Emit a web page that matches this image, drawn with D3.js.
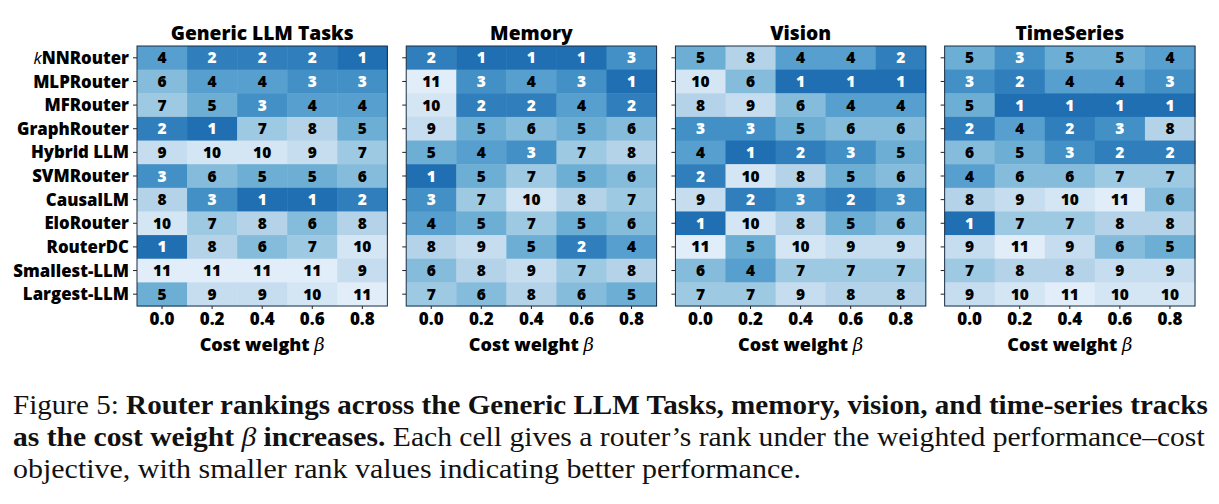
<!DOCTYPE html>
<html>
<head>
<meta charset="utf-8">
<script src="https://cdn.jsdelivr.net/npm/d3@7"></script>
<style>
  body { margin: 0; background: #fff; }
  svg { display: block; }
</style>
</head>
<body>
<div id="chart"></div>
<script>
const routers = ['kNNRouter', 'MLPRouter', 'MFRouter', 'GraphRouter', 'Hybrid LLM', 'SVMRouter',
  'CausalLM', 'EloRouter', 'RouterDC', 'Smallest-LLM', 'Largest-LLM'];
const betas = ['0.0', '0.2', '0.4', '0.6', '0.8'];
const tracks = ['Generic LLM Tasks', 'Memory', 'Vision', 'TimeSeries'];

// rank of each router (rows) at each beta (columns)
const genericRanks = [
  [4, 2, 2, 2, 1], [6, 4, 4, 3, 3], [7, 5, 3, 4, 4], [2, 1, 7, 8, 5], [9, 10, 10, 9, 7], [3, 6, 5, 5, 6],
  [8, 3, 1, 1, 2], [10, 7, 8, 6, 8], [1, 8, 6, 7, 10], [11, 11, 11, 11, 9], [5, 9, 9, 10, 11]
];
const memoryRanks = [
  [2, 1, 1, 1, 3], [11, 3, 4, 3, 1], [10, 2, 2, 4, 2], [9, 5, 6, 5, 6], [5, 4, 3, 7, 8], [1, 5, 7, 5, 6],
  [3, 7, 10, 8, 7], [4, 5, 7, 5, 6], [8, 9, 5, 2, 4], [6, 8, 9, 7, 8], [7, 6, 8, 6, 5]
];
const visionRanks = [
  [5, 8, 4, 4, 2], [10, 6, 1, 1, 1], [8, 9, 6, 4, 4], [3, 3, 5, 6, 6], [4, 1, 2, 3, 5], [2, 10, 8, 5, 6],
  [9, 2, 3, 2, 3], [1, 10, 8, 5, 6], [11, 5, 10, 9, 9], [6, 4, 7, 7, 7], [7, 7, 9, 8, 8]
];
const timeSeriesRanks = [
  [5, 3, 5, 5, 4], [3, 2, 4, 4, 3], [5, 1, 1, 1, 1], [2, 4, 2, 3, 8], [6, 5, 3, 2, 2], [4, 6, 6, 7, 7],
  [8, 9, 10, 11, 6], [1, 7, 7, 8, 8], [9, 11, 9, 6, 5], [7, 8, 8, 9, 9], [9, 10, 11, 10, 10]
];
const ranksByTrack = [genericRanks, memoryRanks, visionRanks, timeSeriesRanks];

const width = 1219;
const height = 504;
const plotTop = 46;
const plotBottom = 306;
const sansFont = '"Open Sans", Lato, "DejaVu Sans", sans-serif';

const svg = d3.select('#chart').append('svg')
  .attr('width', width)
  .attr('height', height);

const panelX = d3.scaleBand().domain(tracks).range([137, 1195]).paddingInner(0.07);
const y = d3.scaleBand().domain(routers).range([plotTop, plotBottom]);
const color = d3.scaleLinear().domain([1, 11]).range([0.76, 0.11]);

tracks.forEach((track, ti) => {
  const x = d3.scaleBand().domain(betas).range([0, panelX.bandwidth()]);
  const g = svg.append('g').attr('transform', `translate(${panelX(track)},0)`);

  const cells = [];
  ranksByTrack[ti].forEach((row, ri) => {
    row.forEach((rank, bi) => cells.push({ router: routers[ri], beta: betas[bi], rank }));
  });

  g.selectAll('rect.cell')
    .data(cells)
    .join('rect')
    .attr('class', 'cell')
    .attr('x', d => x(d.beta))
    .attr('y', d => y(d.router))
    .attr('width', x.bandwidth() + 0.5)
    .attr('height', y.bandwidth() + 0.5)
    .attr('fill', d => d3.interpolateBlues(color(d.rank)));

  g.selectAll('text.val')
    .data(cells)
    .join('text')
    .attr('class', 'val')
    .attr('x', d => x(d.beta) + x.bandwidth() / 2)
    .attr('y', d => y(d.router) + y.bandwidth() / 2)
    .attr('dy', '0.36em')
    .attr('text-anchor', 'middle')
    .style('font', `800 15.5px ${sansFont}`)
    .attr('fill', d => (d.rank <= 3 ? '#fff' : '#000'))
    .text(d => d.rank);

  // frame
  g.append('rect')
    .attr('x', 0)
    .attr('y', plotTop)
    .attr('width', panelX.bandwidth())
    .attr('height', plotBottom - plotTop)
    .attr('fill', 'none')
    .attr('stroke', '#1b2f45')
    .attr('stroke-width', 1);

  // y axis (labels only on the first panel)
  const yAxis = g.append('g')
    .call(d3.axisLeft(y).tickSize(4).tickPadding(4).tickFormat(ti === 0 ? null : ''));
  yAxis.select('.domain').remove();
  yAxis.selectAll('line').attr('stroke', '#222');
  yAxis.selectAll('text')
    .style('font', `800 16.8px ${sansFont}`)
    .attr('fill', '#000')
    .attr('dy', '0.36em');
  if (ti === 0) {
    yAxis.selectAll('text')
      .filter(d => d === 'kNNRouter')
      .text(null)
      .call(t => {
        t.append('tspan').style('font-style', 'italic').style('font-weight', 'normal').text('k');
        t.append('tspan').text('NNRouter');
      });
  }

  const xAxis = g.append('g')
    .attr('transform', `translate(0,${plotBottom})`)
    .call(d3.axisBottom(x).tickSize(3).tickPadding(4));
  xAxis.select('.domain').remove();
  xAxis.selectAll('line').attr('stroke', '#222');
  xAxis.selectAll('text')
    .style('font', `800 17px ${sansFont}`)
    .attr('fill', '#000');

  // panel title
  g.append('text')
    .attr('x', panelX.bandwidth() / 2)
    .attr('y', 40)
    .attr('text-anchor', 'middle')
    .style('font', `800 19.2px ${sansFont}`)
    .text(track);

  // x label
  const xl = g.append('text')
    .attr('x', panelX.bandwidth() / 2)
    .attr('y', 351)
    .attr('text-anchor', 'middle')
    .style('font', `800 18px ${sansFont}`);
  xl.append('tspan').text('Cost weight ');
  xl.append('tspan')
    .style('font-family', '"DejaVu Serif", serif')
    .style('font-style', 'italic')
    .style('font-weight', 'normal')
    .text('β');
});

// caption, three lines of mixed weight, fitted to the printed widths
const captionLines = [
  { y: 414, w: 1195, parts: [['Figure 5: ', 'normal', 'normal'],
    ['Router rankings across the Generic LLM Tasks, memory, vision, and time-series tracks', 'bold', 'normal']] },
  { y: 446, w: 1192, parts: [['as the cost weight ', 'bold', 'normal'], ['β', 'normal', 'italic'],
    [' increases.', 'bold', 'normal'],
    [' Each cell gives a router’s rank under the weighted performance–cost', 'normal', 'normal']] },
  { y: 478, w: 788, parts: [['objective, with smaller rank values indicating better performance.', 'normal', 'normal']] }
];

captionLines.forEach(line => {
  const t = svg.append('text')
    .attr('y', line.y)
    .style('font-family', '"Liberation Serif", "Times New Roman", serif')
    .style('font-size', '28px')
    .attr('fill', '#111');
  line.parts.forEach(([txt, weight, fstyle]) => {
    t.append('tspan').style('font-weight', weight).style('font-style', fstyle).text(txt);
  });
  const measured = t.node().getComputedTextLength();
  const sx = line.w / measured;
  t.attr('transform', `translate(13,0) scale(${sx},1)`);
});
</script>
</body>
</html>
